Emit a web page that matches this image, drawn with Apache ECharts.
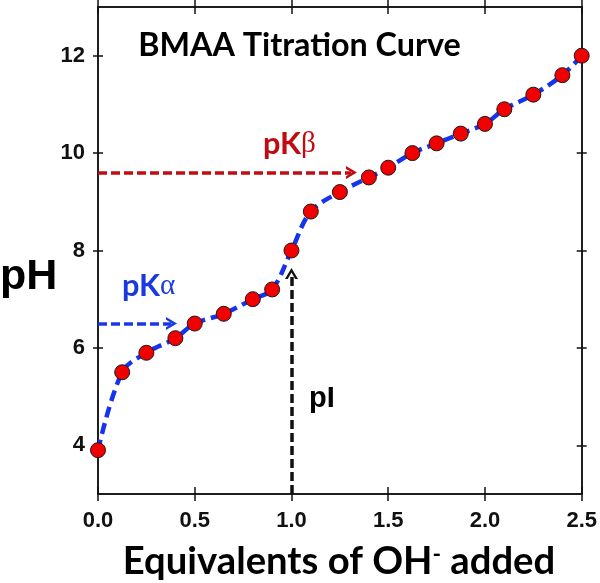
<!DOCTYPE html>
<html>
<head>
<meta charset="utf-8">
<script src="https://cdn.jsdelivr.net/npm/echarts@6/dist/echarts.min.js"></script>
<style>html,body{margin:0;padding:0;background:#fff;}#c{width:600px;height:583px;}</style>
</head>
<body>
<div id="c"></div>
<script>
// ---- data ----
const equivalents = [0, 0.125, 0.25, 0.4, 0.5, 0.65, 0.8, 0.9, 1.0, 1.1, 1.25, 1.4, 1.5, 1.625, 1.75, 1.875, 2.0, 2.1, 2.25, 2.4, 2.5];
const phValues    = [3.9, 5.5, 5.9, 6.2, 6.5, 6.7, 7.0, 7.2, 8.0, 8.8, 9.2, 9.5, 9.7, 10.0, 10.2, 10.4, 10.6, 10.9, 11.2, 11.6, 12.0];
const xTicks = [0, 0.5, 1.0, 1.5, 2.0, 2.5];
const yTicks = [4, 6, 8, 10, 12];
const pKalpha = 6.5, pKbeta = 9.6, pI = 1.0;
const titleText = 'BMAA Titration Curve';

// ---- helpers ----
const ctx = document.createElement('canvas').getContext('2d');
function fit(text, font, target) { ctx.font = 'bold 100px ' + font; return 100 * target / ctx.measureText(text).width; }
const CAL = 'Lato, "Open Sans", sans-serif';
const ARI = '"Liberation Sans", Arial, sans-serif';
const titleSize = fit(titleText, CAL, 323);
const xNameSize = fit('Equivalents of OH added', CAL, 424);
const pkSize = fit('pK', CAL, 38);

const chevron = 'path://M0,10 L6,0 L12,10 L9.4,10 L6,4.2 L2.6,10 Z';
const data = equivalents.map((x, i) => [x, phValues[i]]);

function xa(pos, inside, main) {
  return { type: 'value', position: pos, min: 0, max: 2.5, interval: 0.5,
    axisLine: { show: true, onZero: false, lineStyle: { color: '#111', width: 1.5 } },
    axisTick: { show: true, inside: inside, length: 7, customValues: xTicks, lineStyle: { color: '#111', width: 1.5 } },
    axisLabel: { show: !!main, margin: 16, customValues: xTicks, color: '#111', fontFamily: ARI, fontWeight: 'bold', fontSize: 22,
      formatter: v => v.toFixed(1) },
    splitLine: { show: false } };
}
function ya(pos, inside, main) {
  return { type: 'value', position: pos, min: 3, max: 13,
    axisLine: { show: true, onZero: false, lineStyle: { color: '#111', width: 1.5 } },
    axisTick: { show: true, inside: inside, length: 5, customValues: yTicks, lineStyle: { color: '#111', width: 1.5 } },
    axisLabel: { show: !!main, margin: 13, customValues: yTicks, color: '#111', fontFamily: ARI, fontWeight: 'bold', fontSize: 22 },
    splitLine: { show: false } };
}
function arrow(from, to, color) {
  return { type: 'line', data: [], xAxisIndex: 0, yAxisIndex: 0, z: 2,
    markLine: { silent: true, animation: false, symbol: ['none', chevron], symbolSize: [13, 11],
      label: { show: false }, lineStyle: { color: color, width: 3.5, type: [9, 4] },
      data: [[{ coord: from }, { coord: to }]] } };
}

const chart = echarts.init(document.getElementById('c'));
chart.setOption({
  animation: false,
  backgroundColor: '#fff',
  grid: { left: 98, right: 16, top: 7, bottom: 89 },
  xAxis: [xa('bottom', true, true), xa('bottom', false), xa('top', true), xa('top', false)],
  yAxis: [ya('left', true, true), ya('left', false), ya('right', true), ya('right', false)],
  series: [
    arrow([0, pKbeta], [1.31, pKbeta], '#c00c10'),
    arrow([0, pKalpha], [0.38, pKalpha], '#1a3ae0'),
    arrow([pI, 3], [pI, 7.53], '#111'),
    { type: 'line', data: data, xAxisIndex: 0, yAxisIndex: 0, z: 3, smooth: 0.35,
      symbol: 'circle', symbolSize: 15,
      itemStyle: { color: '#f20000', borderColor: '#1a1a1a', borderWidth: 1 },
      lineStyle: { color: '#1633ee', width: 4.5, type: [11, 6] } }
  ],
  graphic: [
    { type: 'text', x: 299.5, y: 46, style: { text: titleText, fill: '#000', align: 'center', verticalAlign: 'middle',
      font: 'bold ' + titleSize.toFixed(1) + 'px ' + CAL } },
    { type: 'text', x: 0, y: 277, style: { text: 'pH', fill: '#000', align: 'left', verticalAlign: 'middle',
      font: 'bold 43px ' + ARI } },
    { type: 'text', x: 263, y: 144, style: { text: '{a|pK}{g|β}', align: 'left', verticalAlign: 'middle',
      rich: { a: { fill: '#c00c10', fontFamily: CAL, fontWeight: 'bold', fontSize: pkSize },
              g: { fill: '#c00c10', fontFamily: '"Liberation Serif", serif', fontSize: pkSize * 0.95 } } } },
    { type: 'text', x: 122, y: 286, style: { text: '{a|pK}{g|α}', align: 'left', verticalAlign: 'middle',
      rich: { a: { fill: '#1a3ae0', fontFamily: CAL, fontWeight: 'bold', fontSize: pkSize },
              g: { fill: '#1a3ae0', fontFamily: '"Liberation Serif", serif', fontSize: pkSize * 0.95 } } } },
    { type: 'text', x: 309, y: 399, style: { text: 'pI', fill: '#000', align: 'left', verticalAlign: 'middle',
      font: 'bold 29px ' + ARI } },
    { type: 'text', x: 339, y: 562, style: { text: '{a|Equivalents of OH}{s|-}{a| added}', align: 'center', verticalAlign: 'middle',
      rich: { a: { fill: '#000', fontFamily: CAL, fontWeight: 'bold', fontSize: xNameSize },
              s: { fill: '#000', fontFamily: CAL, fontWeight: 'bold', fontSize: xNameSize * 0.6, verticalAlign: 'top' } } } }
  ]
});
</script>
</body>
</html>
